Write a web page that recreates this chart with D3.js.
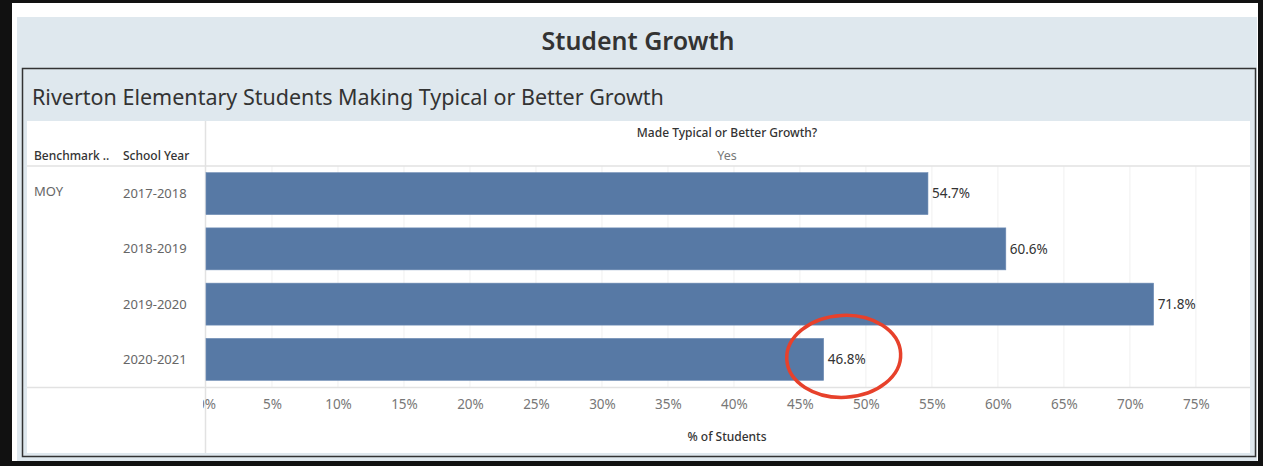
<!DOCTYPE html>
<html><head><meta charset="utf-8">
<script src="https://cdn.jsdelivr.net/npm/d3@7"></script>
<style>body{margin:0;background:#fff}svg{display:block}text{font-family:"Noto Sans",sans-serif}</style>
</head><body><svg id="c" width="1263" height="466"></svg>
<script>
const benchmarks = ["MOY", "", "", ""];
const schoolYears = ["2017-2018", "2018-2019", "2019-2020", "2020-2021"];
const pctYes = [54.7, 60.6, 71.8, 46.8];
const tickValues = [0,5,10,15,20,25,30,35,40,45,50,55,60,65,70,75];
const highlightYear = "2020-2021";

const svg = d3.select("#c");
// outer frame
svg.append("rect").attr("x",0).attr("y",0).attr("width",1263).attr("height",466).attr("fill","#111");
svg.append("rect").attr("x",12).attr("y",3).attr("width",1246).attr("height",458).attr("fill","#fff");
// header band
svg.append("rect").attr("x",17).attr("y",17).attr("width",1240).attr("height",444).attr("fill","#dfe8ee");
svg.append("text").attr("x",638).attr("y",50).attr("text-anchor","middle").attr("font-size",25).attr("font-weight",600).attr("fill","#333").text("Student Growth");
// inner box
svg.append("rect").attr("x",22.5).attr("y",68.5).attr("width",1233).attr("height",388).attr("fill","#dfe8ee").attr("stroke","#333").attr("stroke-width",1.5);
svg.append("text").attr("x",32).attr("y",105).attr("font-size",21.5).attr("fill","#333").text("Riverton Elementary Students Making Typical or Better Growth");
// white chart area
svg.append("rect").attr("x",27).attr("y",121).attr("width",1223).attr("height",332).attr("fill","#fff");

const x = d3.scaleLinear().domain([0, 79.1]).range([206, 1250]);
const y = d3.scaleBand().domain(schoolYears).range([166, 387]).paddingInner(0.24).paddingOuter(0.12);

// gridlines
svg.append("g").selectAll("line").data(tickValues.slice(1)).join("line")
  .attr("x1",d=>x(d)).attr("x2",d=>x(d)).attr("y1",166).attr("y2",387)
  .attr("stroke","#f0f0f0").attr("stroke-width",1);
// dividers
svg.append("line").attr("x1",27).attr("x2",1250).attr("y1",166).attr("y2",166).attr("stroke","#e2e2e2").attr("stroke-width",1.5);
svg.append("line").attr("x1",27).attr("x2",1250).attr("y1",387.5).attr("y2",387.5).attr("stroke","#e2e2e2").attr("stroke-width",1.5);
svg.append("line").attr("x1",205.5).attr("x2",205.5).attr("y1",121).attr("y2",453).attr("stroke","#e2e2e2").attr("stroke-width",1.5);

// headers
svg.append("text").attr("x",34).attr("y",160).attr("font-size",12).attr("font-weight",500).attr("fill","#333").text("Benchmark ..");
svg.append("text").attr("x",123).attr("y",160).attr("font-size",12).attr("font-weight",500).attr("fill","#333").text("School Year");
svg.append("text").attr("x",727).attr("y",137).attr("text-anchor","middle").attr("font-size",12).attr("font-weight",500).attr("fill","#333").text("Made Typical or Better Growth?");
svg.append("text").attr("x",727).attr("y",160).attr("text-anchor","middle").attr("font-size",12.5).attr("fill","#777").text("Yes");

// row labels
svg.append("g").selectAll("text").data(benchmarks).join("text")
  .attr("x",34).attr("y",(d,i)=>y(schoolYears[i])+y.bandwidth()/2 - 2).attr("dy","0.35em")
  .attr("font-size",13).attr("fill","#666").text(d=>d);
svg.append("g").selectAll("text").data(schoolYears).join("text")
  .attr("x",123).attr("y",d=>y(d)+y.bandwidth()/2).attr("dy","0.35em")
  .attr("font-size",13).attr("fill","#666").text(d=>d);

// bars
svg.append("g").selectAll("rect").data(pctYes).join("rect")
  .attr("x",x(0)).attr("y",(d,i)=>y(schoolYears[i]))
  .attr("width",d=>x(d)-x(0)).attr("height",y.bandwidth())
  .attr("fill","#5779a5").attr("stroke","#6f8db5").attr("stroke-width",0.6);
svg.append("g").selectAll("text").data(pctYes).join("text")
  .attr("x",d=>x(d)+4).attr("y",(d,i)=>y(schoolYears[i])+y.bandwidth()/2).attr("dy","0.35em")
  .attr("font-size",13.5).attr("fill","#333").text(d=>d.toFixed(1)+"%");

// axis
svg.append("clipPath").attr("id","axclip").append("rect").attr("x",203).attr("y",-10).attr("width",1047).attr("height",40);
const axis = d3.axisBottom(x).tickValues(tickValues).tickFormat(d=>d+"%").tickSize(0).tickPadding(0);
const ag = svg.append("g").attr("transform","translate(0,399)").attr("clip-path","url(#axclip)").call(axis);
ag.select(".domain").remove();
ag.selectAll("text").attr("font-size",13.5).attr("fill","#777").attr("font-family","\"Noto Sans\",sans-serif").attr("dy","0.71em");
svg.append("text").attr("x",727).attr("y",441).attr("text-anchor","middle").attr("font-size",12).attr("font-weight",500).attr("fill","#333").text("% of Students");

// highlight ellipse
const hi = schoolYears.indexOf(highlightYear);
const hv = pctYes[hi];
const ecx = x(hv)+20, ecy = y(highlightYear)+y.bandwidth()/2-3;
svg.append("ellipse").attr("cx",ecx).attr("cy",ecy)
  .attr("rx",57).attr("ry",41).attr("fill","none").attr("stroke","#e7412b").attr("stroke-width",3.5)
  .attr("transform",`rotate(-3 ${ecx} ${ecy})`);
</script></body></html>
